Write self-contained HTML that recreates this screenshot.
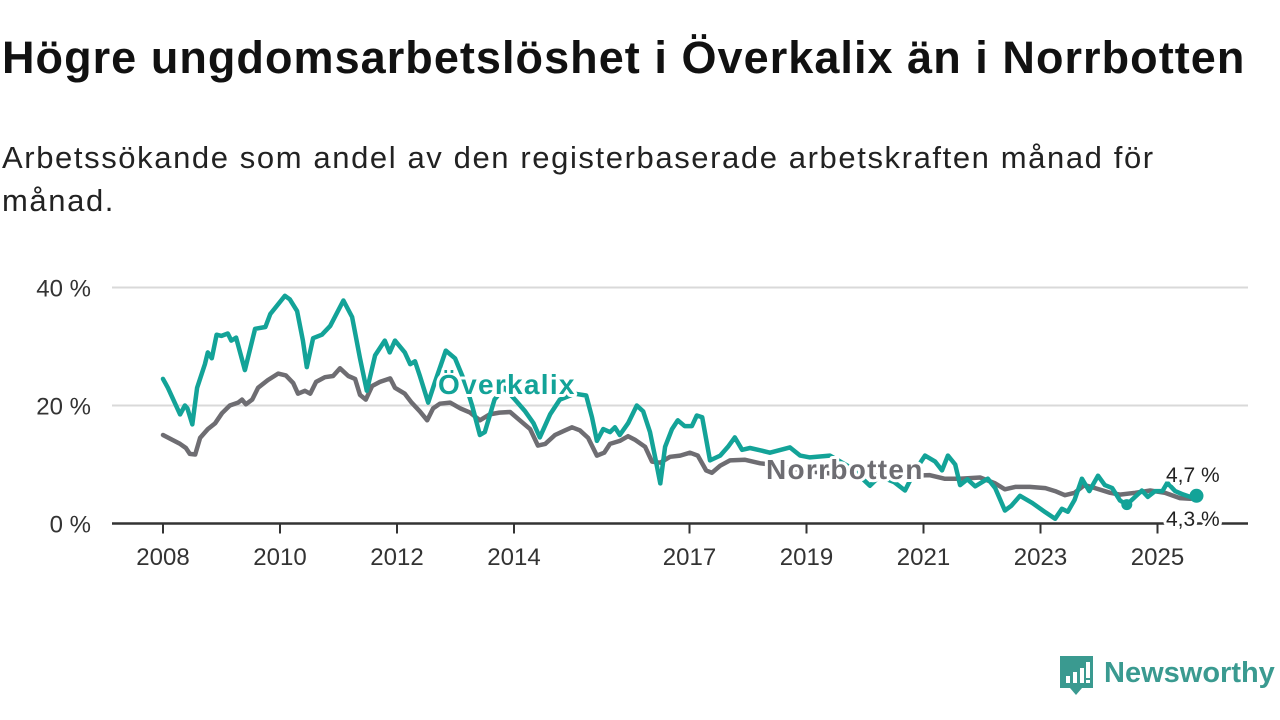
<!DOCTYPE html>
<html><head><meta charset="utf-8">
<style>
html,body{margin:0;padding:0;background:#fff;width:1280px;height:720px;overflow:hidden;font-family:"Liberation Sans","DejaVu Sans",sans-serif;}
#title{position:absolute;left:2px;top:32px;font-size:45px;font-weight:bold;color:#111;letter-spacing:1.05px;white-space:nowrap;}
#sub{position:absolute;left:2px;top:136px;font-size:31px;line-height:43px;color:#222;width:1240px;letter-spacing:1.6px;}
svg{position:absolute;left:0;top:0;}
</style></head><body>
<div id="title">Högre ungdomsarbetslöshet i Överkalix än i Norrbotten</div>
<div id="sub">Arbetssökande som andel av den registerbaserade arbetskraften månad för<br>månad.</div>
<svg id="chart" width="1280" height="720"></svg>
<script>
// months since Jan 2008
const overkalixMonths=[0,1,3.5,4.5,5,6,7,8.6,9.2,10,11,12,13.3,14,15,16.8,18.9,21,22,25,26,27.5,28.7,29.5,30.8,32.6,34.3,37,38.8,40.4,41.8,43.5,45.5,46.5,47.6,49.6,50.7,51.7,52.7,54.4,55.8,58,59.9,61.9,63.4,65,66,68,70,72.2,74.3,76,77.3,79.4,81.4,84.5,86.8,88,89,90.3,91.7,92.7,93.7,95.4,97.2,98.5,99.9,101,102,103,104.4,105.6,107,108.5,109.5,110.6,112.2,114.3,115.9,117.3,118.8,120.4,122.5,124.5,128.6,130.7,132.7,136.8,141,145,147,150,152.2,154.3,156.3,158.4,159.8,161,162.5,163.5,165,166.6,169.2,170.7,172.7,174,175.8,178.3,181,183,184.4,185.6,187,188.5,190,191.8,193.2,194.7,196.3,197.7,199.4,200.8,202,203.5,205,206,207.6,209,210.7,212];
const overkalixValues=[24.5,23,18.5,20,19.5,16.8,23,27,29,28,32,31.8,32.2,31,31.5,26,33,33.3,35.5,38.6,38,36,31,26.5,31.4,32,33.5,37.8,35,28,22.5,28.5,31,29,31,29,27,27.5,25,20.5,24,29.3,28,24,20,15,15.5,21,23,21,19,17,14.6,18.5,21,22,21.7,18,14,16,15.5,16.3,15,17,20,19,15.5,11,6.8,13,16,17.5,16.5,16.5,18.3,18,10.7,11.5,13,14.6,12.5,12.8,12.4,12,12.9,11.5,11.2,11.5,9.5,6.4,8,7,5.6,9,11.5,10.5,9,11.5,10,6.5,7.5,6.3,7.6,6,2.2,3,4.7,3.5,1.9,0.8,2.5,2,4,7.6,5.5,8.1,6.5,6,3.9,3.2,4.5,5.6,4.5,5.5,5.5,6.9,5.5,5,4.5,4.7];
const norrMonths=[0,3.5,4.7,5.5,6.6,7.6,9.2,10.7,12.1,13.7,15.4,16.2,17,18.3,19.5,21.5,23.6,25.2,26.7,27.7,29.1,30.2,31.4,33.2,34.9,36.3,38,39.4,40.4,41.6,42.9,44.5,46.6,47.6,49.6,51,52.7,54.2,55.4,56.8,58.9,61,63,65,67,69,71.2,73.2,75.3,76.9,78.4,80.4,82.5,83.9,85.5,87.2,89,90.5,91.7,93.7,95.4,96.8,98.9,100.3,102,104,106.1,108.1,109.7,111.4,112.6,114.3,116.3,119.4,122.5,126.6,130.7,136.8,145,151,157.2,160.3,163.4,167.6,170.7,172.7,174.8,177.8,181,183,185,187,189,191.2,194.3,196.3,199.4,202.5,205.5,208.6,210.7,212];
const norrValues=[15,13.5,12.8,11.8,11.7,14.5,16,17,18.7,20,20.5,21,20.2,21,23,24.3,25.4,25.1,23.8,22,22.5,22,24,24.8,25,26.3,25,24.5,21.8,21,23.3,24,24.6,23,22,20.5,19,17.5,19.5,20.3,20.5,19.5,18.8,17.5,18.5,18.8,18.9,17.5,16,13.2,13.5,15,15.8,16.3,15.8,14.5,11.5,12,13.5,14,14.8,14.2,13,10.5,10.3,11.3,11.5,12,11.5,9,8.6,9.8,10.7,10.8,10.2,9.8,9,8.5,8.2,8,8.2,7.6,7.6,7.8,6.8,5.8,6.2,6.2,6,5.5,4.8,5.2,6.5,6,5.2,4.9,5.2,5.6,5.2,4.3,4.2,4.3];
const yTicks=[0,20,40];
const yTickLabels=["0 %","20 %","40 %"];
const xTickYears=[2008,2010,2012,2014,2017,2019,2021,2023,2025];
const lastLabels=["4,7 %","4,3 %"];

const svg=document.getElementById('chart');
const NS='http://www.w3.org/2000/svg';
const X0=163,PXY=58.5,Y0=523.5,PXV=5.9;
const xm=m=>X0+m*PXY/12;
const xy=y=>X0+(y-2008)*PXY;
const yv=v=>Y0-v*PXV;
function mk(tag,attrs,parent){const e=document.createElementNS(NS,tag);for(const k in attrs)e.setAttribute(k,attrs[k]);(parent||svg).appendChild(e);return e;}

yTicks.forEach((t,i)=>{
  if(t>0){const g=mk('line',{x1:112,x2:1248,y1:yv(t),y2:yv(t),stroke:'#d9d9d9','stroke-width':2});
  
  }
  const l=mk('text',{x:91,y:yv(t)+9,'text-anchor':'end','font-size':24,fill:'#333'});
  l.textContent=yTickLabels[i];
  
  
});
const ax=mk('line',{x1:112,x2:1248,y1:Y0,y2:Y0,stroke:'#333','stroke-width':2.5});


xTickYears.forEach(y=>{
  const t=mk('line',{x1:xy(y),x2:xy(y),y1:Y0,y2:Y0+10,stroke:'#333','stroke-width':2});
  
  
  const l=mk('text',{x:xy(y),y:565,'text-anchor':'middle','font-size':24,fill:'#333'});
  l.textContent=y;
  
  
});
function path(ms,vs,color,name){
  const d=ms.map((m,i)=>(i?'L':'M')+xm(m).toFixed(1)+','+yv(vs[i]).toFixed(1)).join('');
  const p=mk('path',{d:d,fill:'none',stroke:color,'stroke-width':4.5,'stroke-linejoin':'round','stroke-linecap':'round'});
  
  
}
path(norrMonths,norrValues,'#6e6d72','norrbotten-line');
path(overkalixMonths,overkalixValues,'#13a398','overkalix-line');
const lo=overkalixMonths.length-1;
const dot=mk('circle',{cx:xm(overkalixMonths[lo]),cy:yv(overkalixValues[lo]),r:7,fill:'#13a398'});


const dot2=mk('circle',{cx:xm(overkalixMonths[119]),cy:yv(overkalixValues[119]),r:5.5,fill:'#13a398'});


function lab(txt,x,y,size,color,bold,ls,name){
  const t=mk('text',{x:x,y:y,'font-size':size,fill:color,'font-weight':bold?'bold':'normal','letter-spacing':ls,stroke:'#fff','stroke-width':6,'paint-order':'stroke','stroke-linejoin':'round'});
  t.textContent=txt;
  
  
}
lab('Överkalix',438,394,28,'#13a398',true,1.3,'overkalix-label');
lab('Norrbotten',766,479,28,'#6e6d72',true,1.3,'norrbotten-label');
lab(lastLabels[0],1166,482,21,'#222',false,0,'overkalix-last-value');
lab(lastLabels[1],1166,526,21,'#222',false,0,'norrbotten-last-value');

// logo
const g=mk('g',{});


mk('path',{d:'M1060,656h33v32h-11l-6,7l-6,-7h-10z',fill:'#3a9a90'},g);
mk('rect',{x:1066,y:676,width:4,height:7,fill:'#fff'},g);
mk('rect',{x:1073,y:672,width:4,height:11,fill:'#fff'},g);
mk('rect',{x:1080,y:668,width:4,height:15,fill:'#fff'},g);
mk('rect',{x:1086,y:662,width:4,height:16,fill:'#fff'},g);
mk('rect',{x:1086,y:680,width:4,height:3,fill:'#fff'},g);
const lt=mk('text',{x:1104,y:682,'font-size':29,'font-weight':'bold',fill:'#3a9a90'},g);
lt.textContent='Newsworthy';
</script>
</body></html>
